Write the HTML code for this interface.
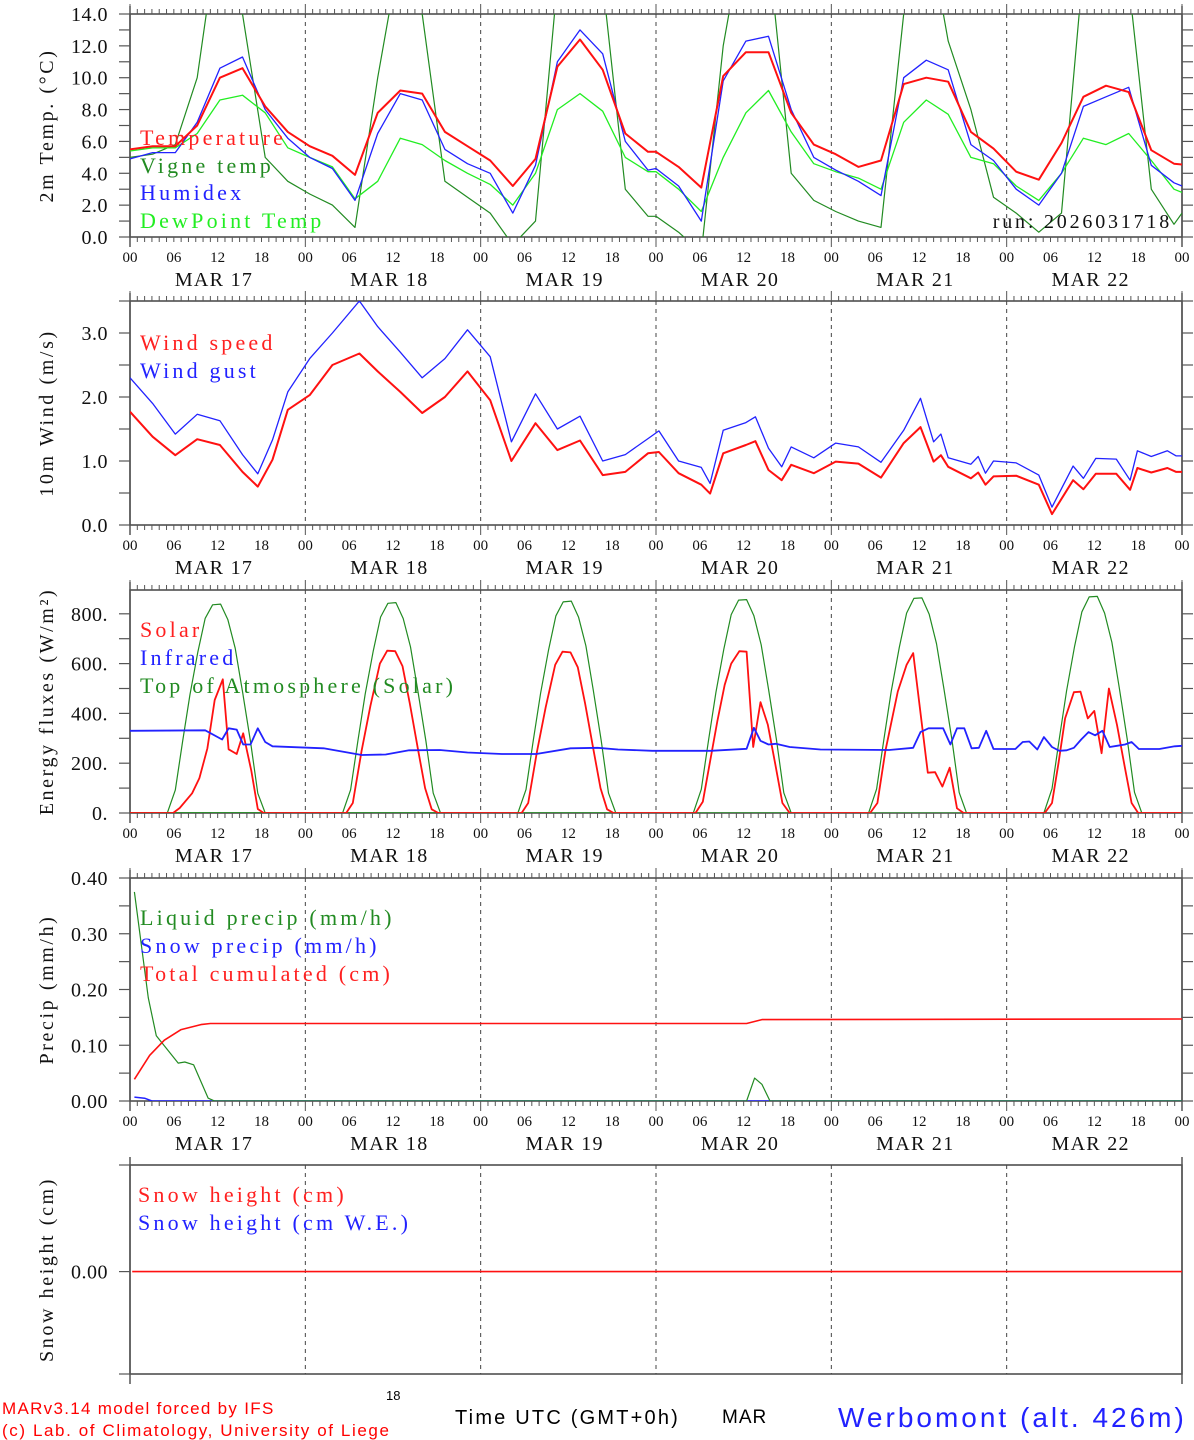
<!DOCTYPE html>
<html><head><meta charset="utf-8"><title>MAR forecast Werbomont</title>
<style>
html,body{margin:0;padding:0;background:#fff;}
svg{display:block;}
text{font-family:"Liberation Serif","DejaVu Serif",serif;}
.cond{font-family:"Liberation Sans","DejaVu Sans",sans-serif;}
</style></head>
<body>
<svg id="chart" width="1194" height="1440" viewBox="0 0 1194 1440" xmlns="http://www.w3.org/2000/svg">
<defs></defs>
<g id="layer"></g>
<text x="386" y="1400" font-size="13" class="cond" fill="#000">18</text>
<text x="2" y="1414" font-size="17" class="cond" fill="#f00" letter-spacing="1.3">MARv3.14 model forced by IFS</text>
<text x="2" y="1436" font-size="17" class="cond" fill="#f00" letter-spacing="1.6">(c) Lab. of Climatology, University of Liege</text>
<text x="455" y="1424" font-size="20" class="cond" fill="#000" letter-spacing="2.2">Time UTC (GMT+0h)</text>
<text x="722" y="1423" font-size="19" class="cond" fill="#000" letter-spacing="1">MAR</text>
<text x="838" y="1427" font-size="28" class="cond" fill="#22f" letter-spacing="3">Werbomont (alt. 426m)</text>
</svg>
<script>
// ---------- data ----------
const sampleHours = [0,3.1,6.2,9.2,12.3,15.4,18.5,21.6,24.6,27.7,30.8,33.9,37.0,40.0,43.1,46.2,49.3,52.4,55.5,58.5,61.6,64.7,67.8,70.9,72,75.1,78.2,81.2,84.3,87.4,90.5,93.6,96.6,99.7,102.8,105.9,109.0,112.0,115.1,118.2,121.3,124.4,127.5,130.5,133.6,136.7,139.8,142.9,144];
const temperature = [5.5,5.7,5.7,7.0,10.0,10.6,8.2,6.6, 5.7,5.1,3.9,7.8,9.2,9.0,6.6,5.7, 4.8,3.2,4.9,10.7,12.4,10.5,6.5,5.35, 5.35,4.4,3.1,10.1,11.6,11.6,7.8,5.8, 5.2,4.4,4.8,9.6,10.0,9.75,6.6,5.55, 4.1,3.6,5.9,8.8,9.5,9.1,5.45,4.6,4.55];
const humidex = [4.9,5.3,5.3,7.2,10.6,11.3,8.0,6.2, 5.0,4.3,2.3,6.5,9.0,8.6,5.5,4.6, 4.0,1.5,4.5,11.0,13.0,11.5,6.0,4.2, 4.3,3.2,1.0,9.8,12.3,12.6,8.0,5.0, 4.2,3.5,2.6,10.0,11.1,10.5,5.8,4.8, 3.0,2.0,4.0,8.2,8.8,9.4,4.5,3.4,3.2];
const dewpoint = [5.4,5.6,5.6,6.5,8.6,8.9,7.8,5.6, 5.0,4.4,2.4,3.5,6.2,5.8,4.8,4.0, 3.3,2.0,4.0,8.0,9.0,7.9,5.0,4.1, 4.1,3.0,1.6,5.0,7.8,9.2,6.6,4.6, 4.1,3.7,3.0,7.2,8.6,7.7,5.0,4.6, 3.2,2.3,4.0,6.2,5.8,6.5,4.8,3.0,2.8];
const vigneTemp = [5.0,5.2,5.8,10,20,14.0,5.0,3.5, 2.7,2.0,0.6,10,18,14,3.5,2.5, 1.5,-0.5,1.0,16,22,16,3.0,1.3, 1.3,0.3,-1,12,20,18,4,2.3, 1.6,1.0,0.6,14,20,12.3,8,2.5, 1.5,0.3,1.5,17,14,16,3,0.8,1.5];

const windHours = [0,3.1,6.2,9.2,12.3,15.4,17.5,19.5,21.6,24.6,27.7,31.4,33.9,37.0,40.0,43.1,46.2,49.3,52.2,55.5,58.5,61.6,64.7,67.8,70.9,72.4,75.1,78.2,79.4,81.2,84.3,85.6,87.4,89.2,90.5,93.6,96.6,99.7,102.8,105.9,108.2,110.0,111.0,112.0,115.1,116.1,117.1,118.2,121.3,124.4,126.2,129.1,130.5,132.2,135.0,136.9,137.9,139.8,142.0,143.2,144];
const windSpeed = [1.77,1.38,1.09,1.34,1.25,0.83,0.60,1.02,1.80,2.03,2.5,2.68,2.4,2.08,1.75,2.0,2.4,1.95,1.0,1.59,1.17,1.32,0.78,0.83,1.12,1.14,0.81,0.63,0.49,1.12,1.25,1.31,0.86,0.70,0.94,0.81,0.99,0.96,0.74,1.28,1.53,0.99,1.09,0.91,0.73,0.82,0.63,0.76,0.77,0.63,0.17,0.70,0.56,0.80,0.80,0.55,0.89,0.82,0.89,0.83,0.83];
const windGust = [2.3,1.9,1.42,1.73,1.63,1.1,0.80,1.33,2.08,2.6,3.0,3.5,3.1,2.7,2.3,2.6,3.05,2.63,1.30,2.05,1.5,1.7,1.0,1.1,1.35,1.47,1.0,0.9,0.65,1.48,1.6,1.69,1.2,0.91,1.22,1.05,1.28,1.22,0.98,1.48,1.98,1.3,1.42,1.05,0.95,1.07,0.81,1.0,0.97,0.78,0.28,0.92,0.73,1.04,1.03,0.7,1.16,1.07,1.16,1.08,1.08];

const toaHours = [5.1,6.2,7.2,8.2,9.3,10.3,11.3,12.4,13.4,14.4,15.4,16.5,17.5,18.5];
const toaDay1 = [0,92,287,474,648,782,836,839,776,662,488,287,79,0];
const toaDay2 = [0,93,290,478,652,787,842,845,781,667,492,289,80,0];
const toaDay3 = [0,94,292,481,656,792,848,851,786,671,495,291,80,0];
const toaDay4 = [0,95,294,484,660,797,855,857,792,675,498,293,81,0];
const toaDay5 = [0,96,296,488,665,803,862,864,798,680,502,295,82,0];
const toaDay6 = [0,97,298,491,670,808,868,870,803,685,505,297,83,0];

const solarHours = [0,5.9,6.8,8.5,9.5,10.6,11.6,12.7,13.5,14.6,15.5,16.6,17.5,18.3, 29.6,30.5,31.7,32.9,34.2,35.2,36.3,37.3,38.3,39.4,40.4,41.3,42.2, 53.6,54.5,55.7,56.9,58.2,59.2,60.3,61.3,62.3,63.4,64.4,65.3,66.2, 77.4,78.4,79.3,80.4,81.4,82.3,83.4,84.4,85.3,86.3,87.3,88.3,89.3,90.3, 101.3,102.3,103.4,105.1,106.3,107.2,109.2,110.2,111.2,112.2,113.2,114.1, 125.2,126.2,127.1,128.0,129.2,130.1,131.1,132.0,133.0,134.0,135.1,136.2,137.1,138.0,144];
const solarFlux = [0,0,20,79,140,260,454,537,256,237,320,170,16,0, 0,40,250,430,600,652,650,590,440,260,100,15,0, 0,40,245,425,595,648,645,585,440,260,100,15,0, 0,45,190,370,515,600,650,648,265,445,355,200,40,0, 0,40,250,488,595,642,162,164,106,182,19,0, 0,40,200,380,485,487,380,410,240,500,354,180,40,0,0];

const irHours = [0,10.3,12.6,13.5,14.6,15.5,16.5,17.5,18.5,19.5,26.5,31.7,35.0,38.2,42.4,46.2,50.9,55.6,60.3,64.0,66.8,71.5,79.5,84.4,85.4,86.3,87.4,88.4,90.3,94.5,103.9,107.2,108.2,109.3,111.3,112.3,113.2,114.2,115.2,116.2,117.2,118.2,121.2,122.2,123.1,124.2,125.1,126.2,127.2,128.2,129.2,130.2,131.2,132.1,133.1,134.1,135.1,136.2,137.1,138.1,140.9,143.0,144];
const irFlux = [330,332,295,340,335,275,275,340,285,268,260,233,235,252,253,243,237,237,260,262,255,250,250,258,342,290,275,278,265,255,253,262,325,340,340,275,340,340,260,262,330,257,257,285,287,255,305,265,250,252,262,295,325,312,330,265,270,275,285,257,257,268,270];

const liquidHours = [0.6,2.5,3.6,6.6,7.5,8.7,10.7,11.6,84.4,85.5,86.5,87.6,144];
const liquidPrecip = [0.375,0.185,0.117,0.068,0.070,0.065,0.005,0,0,0.041,0.030,0,0];
const snowPHours = [0.6,2,3,144];
const snowPrecip = [0.007,0.005,0,0];
const cumulHours = [0.6,2.7,4.7,7.0,9.7,11,84.4,86.5,144];
const totalCumul = [0.039,0.082,0.109,0.128,0.137,0.139,0.139,0.146,0.147];
const snowHHours = [0.3,144];
const snowHeight = [0,0];

const dayLabels = ["MAR 17","MAR 18","MAR 19","MAR 20","MAR 21","MAR 22"];
const hourLabels = ["00","06","12","18"];
const tempTicks = ["0.0","2.0","4.0","6.0","8.0","10.0","12.0","14.0"];
const windTicks = ["0.0","1.0","2.0","3.0"];
const energyTicks = ["0.","200.","400.","600.","800."];
const precipTicks = ["0.00","0.10","0.20","0.30","0.40"];

// ---------- drawing ----------
const NS = "http://www.w3.org/2000/svg";
const layer = document.getElementById('layer');
const X0 = 130, X1 = 1182, HMAX = 144;
function xs(h){ return X0 + h * (X1 - X0) / HMAX; }
function mk(tag, attrs, parent){
  const e = document.createElementNS(NS, tag);
  for (const k in attrs) e.setAttribute(k, attrs[k]);
  (parent || layer).appendChild(e);
  return e;
}
function ysFn(p){ return v => p.bottom - (v - p.min) * (p.bottom - p.top) / (p.max - p.min); }

const panels = [
  {name:'temperature', top:14, bottom:237, min:0, max:14, minor:1, labels:tempTicks, labelStep:2, title:'2m Temp. (\u00B0C)', xlabels:true},
  {name:'wind', top:301, bottom:525, min:0, max:3.5, minor:0.5, labels:windTicks, labelStep:1, title:'10m Wind (m/s)', xlabels:true},
  {name:'energy', top:590, bottom:813, min:0, max:895.6, minor:100, labels:energyTicks, labelStep:200, title:'Energy fluxes (W/m\u00B2)', xlabels:true},
  {name:'precip', top:878, bottom:1101, min:0, max:0.40, minor:0.05, labels:precipTicks, labelStep:0.1, title:'Precip (mm/h)', xlabels:true},
  {name:'snow', top:1165, bottom:1374, min:-0.98, max:1.02, minor:null, labels:["0.00"], labelStep:1, title:'Snow height (cm)', xlabels:false}
];

panels.forEach((p, pi) => {
  const g = mk('g', {});
  
  
  const ys = ysFn(p);
  p.ys = ys;
  const clipId = 'clip' + pi;
  const cp = mk('clipPath', {id: clipId}, document.querySelector('defs'));
  mk('rect', {x:X0, y:p.top, width:X1-X0, height:p.bottom-p.top}, cp);
  p.clip = clipId;
  for (let d = 1; d < 6; d++) {
    const l = mk('line', {x1:xs(d*24), x2:xs(d*24), y1:p.top, y2:p.bottom, stroke:'#444', 'stroke-width':1, 'stroke-dasharray':'4,4'}, g);
    
    
  }
  const fr = mk('rect', {x:X0, y:p.top, width:X1-X0, height:p.bottom-p.top, fill:'none', stroke:'#444', 'stroke-width':1.5}, g);
  
  
  mk('line', {x1:X0, x2:X0, y1:p.top-8, y2:p.bottom+10, stroke:'#555', 'stroke-width':1.5}, g);
  mk('line', {x1:X1, x2:X1, y1:p.top-8, y2:p.bottom+10, stroke:'#555', 'stroke-width':1.5}, g);
  if (p.minor !== null) {
    for (let h = 0; h <= HMAX; h++) {
      const len = (h % 24 === 0) ? 10 : 5;
      mk('line', {x1:xs(h), x2:xs(h), y1:p.top, y2:p.top-len, stroke:'#555', 'stroke-width':1}, g);
      mk('line', {x1:xs(h), x2:xs(h), y1:p.bottom, y2:p.bottom+len, stroke:'#555', 'stroke-width':1}, g);
    }
    for (let v = p.min; v <= p.max + 1e-9; v += p.minor) {
      const y = ys(v);
      mk('line', {x1:X0-11, x2:X0, y1:y, y2:y, stroke:'#555', 'stroke-width':1.2}, g);
      mk('line', {x1:X1, x2:X1+11, y1:y, y2:y, stroke:'#555', 'stroke-width':1.2}, g);
    }
  } else {
    [p.top, p.bottom, ys(0)].forEach(y => {
      mk('line', {x1:X0-11, x2:X0, y1:y, y2:y, stroke:'#555', 'stroke-width':1.2}, g);
    });
  }
  p.labels.forEach((lab, i) => {
    const v = (p.minor === null) ? 0 : p.min + i * p.labelStep;
    const t = mk('text', {x:108, y:ys(v)+7, 'font-size':20, 'text-anchor':'end', fill:'#111', 'letter-spacing':0.5}, g);
    t.textContent = lab;
    
    
  });
  const cy = (p.top + p.bottom) / 2;
  const tt = mk('text', {x:0, y:0, 'font-size':20, 'text-anchor':'middle', fill:'#111', 'letter-spacing':2.6, transform:'translate(53,' + cy + ') rotate(-90)'}, g);
  tt.textContent = p.title;
  
  
  if (p.xlabels) {
    for (let h = 0; h <= HMAX; h += 6) {
      const t = mk('text', {x:xs(h), y:p.bottom+25, 'font-size':15, 'text-anchor':'middle', fill:'#111'}, g);
      t.textContent = hourLabels[(h / 6) % 4];
      
      
    }
    dayLabels.forEach((d, i) => {
      const t = mk('text', {x:xs(i*24+11.5), y:p.bottom+49, 'font-size':20, 'text-anchor':'middle', fill:'#111', 'letter-spacing':1.3}, g);
      t.textContent = d;
      
      
    });
  }
});

function series(p, hours, vals, color, width, name){
  const pts = hours.map((h, i) => xs(h).toFixed(1) + ',' + p.ys(vals[i]).toFixed(1)).join(' ');
  const l = mk('polyline', {points:pts, fill:'none', stroke:color, 'stroke-width':width, 'stroke-linejoin':'round', 'clip-path':'url(#' + p.clip + ')'});
  
  
}
function legend(x, y, txt, color, name){
  const t = mk('text', {x:x, y:y, 'font-size':22, fill:color, 'letter-spacing':3.2});
  t.textContent = txt;
  
  
}

const [pT, pW, pE, pP, pS] = panels;
series(pT, sampleHours, vigneTemp, '#228b22', 1.2, 'vigne-temp-line');
series(pT, sampleHours, dewpoint, '#22ee22', 1.3, 'dewpoint-line');
series(pT, sampleHours, humidex, '#2222ff', 1.3, 'humidex-line');
series(pT, sampleHours, temperature, '#ff1111', 2, 'temperature-line');
legend(140, 145, 'Temperature', '#ff2020', 'legend-temperature');
legend(140, 173, 'Vigne temp', '#228b22', 'legend-vigne-temp');
legend(140, 200, 'Humidex', '#2222ff', 'legend-humidex');
legend(140, 228, 'DewPoint Temp', '#22ee22', 'legend-dewpoint');
const run = mk('text', {x:1172, y:228, 'font-size':20, 'text-anchor':'end', fill:'#111', 'letter-spacing':2.8});
run.textContent = 'run: 2026031718';



series(pW, windHours, windGust, '#2222ff', 1.3, 'wind-gust-line');
series(pW, windHours, windSpeed, '#ff1111', 2, 'wind-speed-line');
legend(140, 350, 'Wind speed', '#ff2020', 'legend-wind-speed');
legend(140, 378, 'Wind gust', '#2222ff', 'legend-wind-gust');

[toaDay1, toaDay2, toaDay3, toaDay4, toaDay5, toaDay6].forEach((arr, d) => {
  const hrs = [0].concat(toaHours.map(h => h + d*24));
  const vals = [0].concat(arr);
  if (d === 5) { hrs.push(144); vals.push(0); }
  series(pE, hrs, vals, '#228b22', 1.2, 'toa-solar-line');
});
series(pE, solarHours, solarFlux, '#ff1111', 1.8, 'solar-line');
series(pE, irHours, irFlux, '#2222ff', 1.8, 'infrared-line');
legend(140, 637, 'Solar', '#ff2020', 'legend-solar');
legend(140, 665, 'Infrared', '#2222ff', 'legend-infrared');
legend(140, 693, 'Top of Atmosphere (Solar)', '#228b22', 'legend-toa');

series(pP, snowPHours, snowPrecip, '#2222ff', 1.5, 'snow-precip-line');
series(pP, liquidHours, liquidPrecip, '#228b22', 1.2, 'liquid-precip-line');
series(pP, cumulHours, totalCumul, '#ff1111', 1.6, 'total-cumulated-line');
legend(140, 925, 'Liquid precip (mm/h)', '#228b22', 'legend-liquid-precip');
legend(140, 953, 'Snow precip (mm/h)', '#2222ff', 'legend-snow-precip');
legend(140, 981, 'Total cumulated (cm)', '#ff2020', 'legend-total-cumulated');

series(pS, snowHHours, snowHeight, '#ff1111', 1.6, 'snow-height-line');
legend(138, 1202, 'Snow height (cm)', '#ff2020', 'legend-snow-height');
legend(138, 1230, 'Snow height (cm W.E.)', '#2222ff', 'legend-snow-we');
</script>
</body></html>
